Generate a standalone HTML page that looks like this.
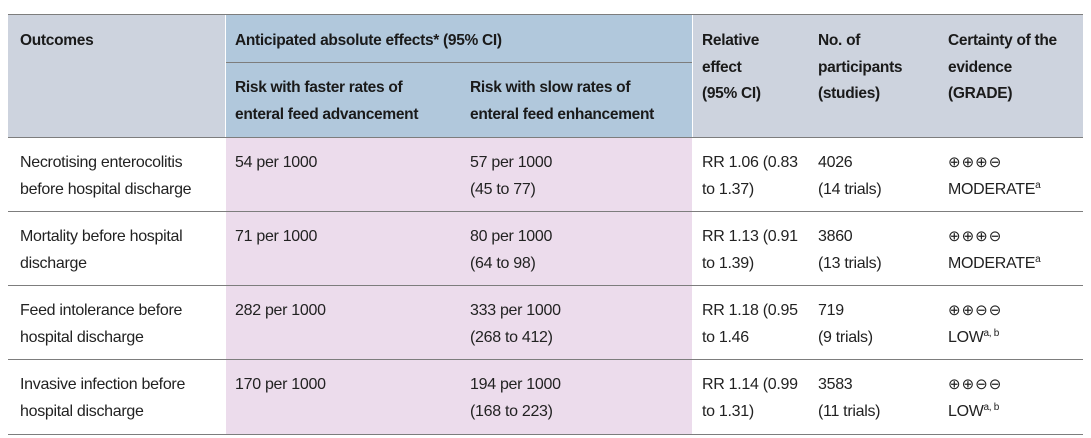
<!DOCTYPE html>
<html><head><meta charset="utf-8"><style>
body{margin:0;width:1091px;height:438px;background:#fff;position:relative;overflow:hidden;font-family:"Liberation Sans",sans-serif;font-size:16px;color:#222;letter-spacing:-0.3px}
.b{position:absolute}
.t{position:absolute;line-height:26.6px;white-space:nowrap;margin-top:2px}
.h{font-weight:bold;color:#1a1a1a;font-size:15.5px;letter-spacing:-0.3px}
.hl{position:absolute;height:1px;background:#7d7d7d}
.g{letter-spacing:1px;font-size:15px}
sup{font-size:10px;vertical-align:6px;line-height:0}
</style></head><body>
<div class="b" style="left:8px;top:14px;width:217px;height:123px;background:#cdd3de"></div>
<div class="b" style="left:226px;top:14px;width:466px;height:123px;background:#b1c8dc"></div>
<div class="b" style="left:693px;top:14px;width:390px;height:123px;background:#cdd3de"></div>
<div class="b" style="left:226px;top:137px;width:466px;height:298px;background:#ecdcec"></div>
<div class="hl" style="left:8px;top:14px;width:1075px"></div>
<div class="hl" style="left:226px;top:62px;width:466px"></div>
<div class="hl" style="left:8px;top:137px;width:1075px"></div>
<div class="hl" style="left:8px;top:211px;width:1075px"></div>
<div class="hl" style="left:8px;top:285px;width:1075px"></div>
<div class="hl" style="left:8px;top:359px;width:1075px"></div>
<div class="hl" style="left:8px;top:434px;width:1075px"></div>

<div class="t h" style="left:20px;top:26px">Outcomes</div>
<div class="t h" style="left:235px;top:26px">Anticipated absolute effects* (95% CI)</div>
<div class="t h" style="left:235px;top:73px">Risk with faster rates of<br>enteral feed advancement</div>
<div class="t h" style="left:470px;top:73px">Risk with slow rates of<br>enteral feed enhancement</div>
<div class="t h" style="left:702px;top:26px">Relative<br>effect<br>(95% CI)</div>
<div class="t h" style="left:818px;top:26px">No. of<br>participants<br>(studies)</div>
<div class="t h" style="left:948px;top:26px">Certainty of the<br>evidence<br>(GRADE)</div>

<div class="t" style="left:20px;top:148px">Necrotising enterocolitis<br>before hospital discharge</div>
<div class="t" style="left:235px;top:148px">54 per 1000</div>
<div class="t" style="left:470px;top:148px">57 per 1000<br>(45 to 77)</div>
<div class="t" style="left:702px;top:148px">RR 1.06 (0.83<br>to 1.37)</div>
<div class="t" style="left:818px;top:148px">4026<br>(14 trials)</div>
<div class="t" style="left:948px;top:148px"><span class="g">⊕⊕⊕⊖</span><br>MODERATE<sup>a</sup></div>

<div class="t" style="left:20px;top:222px">Mortality before hospital<br>discharge</div>
<div class="t" style="left:235px;top:222px">71 per 1000</div>
<div class="t" style="left:470px;top:222px">80 per 1000<br>(64 to 98)</div>
<div class="t" style="left:702px;top:222px">RR 1.13 (0.91<br>to 1.39)</div>
<div class="t" style="left:818px;top:222px">3860<br>(13 trials)</div>
<div class="t" style="left:948px;top:222px"><span class="g">⊕⊕⊕⊖</span><br>MODERATE<sup>a</sup></div>

<div class="t" style="left:20px;top:296px">Feed intolerance before<br>hospital discharge</div>
<div class="t" style="left:235px;top:296px">282 per 1000</div>
<div class="t" style="left:470px;top:296px">333 per 1000<br>(268 to 412)</div>
<div class="t" style="left:702px;top:296px">RR 1.18 (0.95<br>to 1.46</div>
<div class="t" style="left:818px;top:296px">719<br>(9 trials)</div>
<div class="t" style="left:948px;top:296px"><span class="g">⊕⊕⊖⊖</span><br>LOW<sup>a, b</sup></div>

<div class="t" style="left:20px;top:370px">Invasive infection before<br>hospital discharge</div>
<div class="t" style="left:235px;top:370px">170 per 1000</div>
<div class="t" style="left:470px;top:370px">194 per 1000<br>(168 to 223)</div>
<div class="t" style="left:702px;top:370px">RR 1.14 (0.99<br>to 1.31)</div>
<div class="t" style="left:818px;top:370px">3583<br>(11 trials)</div>
<div class="t" style="left:948px;top:370px"><span class="g">⊕⊕⊖⊖</span><br>LOW<sup>a, b</sup></div>
</body></html>
